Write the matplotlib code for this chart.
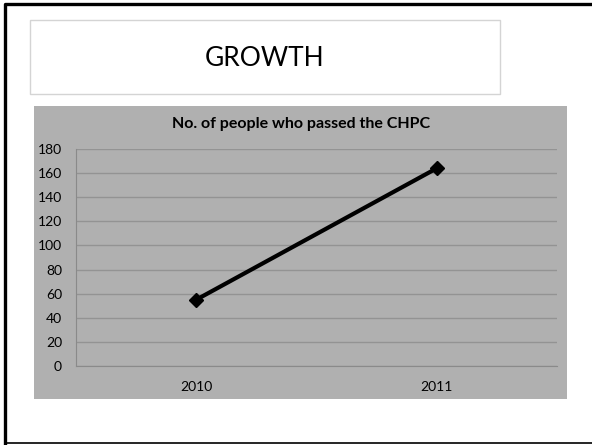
import matplotlib.pyplot as plt
from matplotlib.patches import Rectangle
from matplotlib.lines import Line2D

# data
years = ['2010', '2011']
passed = [55, 164]
y_ticks = [0, 20, 40, 60, 80, 100, 120, 140, 160, 180]

W, H = 592, 445
plt.rcParams['font.family'] = ['Lato', 'DejaVu Sans']

fig = plt.figure(figsize=(W / 100, H / 100), dpi=100)
fig.patch.set_facecolor('white')


def box(x0, y0, x1, y1):
    # pixel box (top-left origin) -> figure fraction
    return (x0 / W, 1 - y1 / H, (x1 - x0) / W, (y1 - y0) / H)


def px(x, y):
    return x / W, 1 - y / H


# slide frame: left, top and bottom edges
(xa, ya), (xb, yb) = px(5, 4), px(W + 5, 443)
fig.lines.append(Line2D([xb, xa, xa], [ya, ya, yb], transform=fig.transFigure,
                        color='black', linewidth=2.4))
fig.lines.append(Line2D([xa, xb], [yb, yb], transform=fig.transFigure,
                        color='black', linewidth=1.2))

# title box
l, b, w, h = box(30, 20, 500, 94)
fig.patches.append(Rectangle((l, b), w, h, transform=fig.transFigure,
                             facecolor='white', edgecolor='#d4d4d4', linewidth=1))
fig.text((30 + 500) / 2 / W, 1 - 58 / H, 'GROWTH', ha='center', va='center',
         fontsize=19, color='black')

# chart background
l, b, w, h = box(34, 106, 567, 399)
fig.patches.append(Rectangle((l, b), w, h, transform=fig.transFigure,
                             facecolor='#b0b0b0', edgecolor='none'))
fig.text(301 / W, 1 - 124 / H, 'No. of people who passed the CHPC',
         ha='center', va='center', fontsize=11.5, fontweight='bold', color='black')

ax = fig.add_axes(box(76, 149, 557, 366))
ax.set_zorder(3)
ax.set_facecolor('none')
x = range(len(years))
ax.plot(x, passed, color='black', linewidth=3, marker='D', markersize=7,
        markerfacecolor='black', markeredgecolor='black', zorder=3)

ax.set_xlim(-0.5, len(years) - 0.5)
ax.set_ylim(0, 180)
ax.set_yticks(y_ticks)
ax.set_xticks(list(x))
ax.set_xticklabels(years)
ax.yaxis.grid(True, color='#939393', linewidth=1)
ax.set_axisbelow(True)
for side in ['top', 'right']:
    ax.spines[side].set_visible(False)
for side in ['left', 'bottom']:
    ax.spines[side].set_color('#8a8a8a')
ax.tick_params(axis='both', length=0, labelsize=10, colors='black')
ax.tick_params(axis='y', pad=10)
ax.tick_params(axis='x', pad=11)

plt.savefig('out.png', dpi=100)
